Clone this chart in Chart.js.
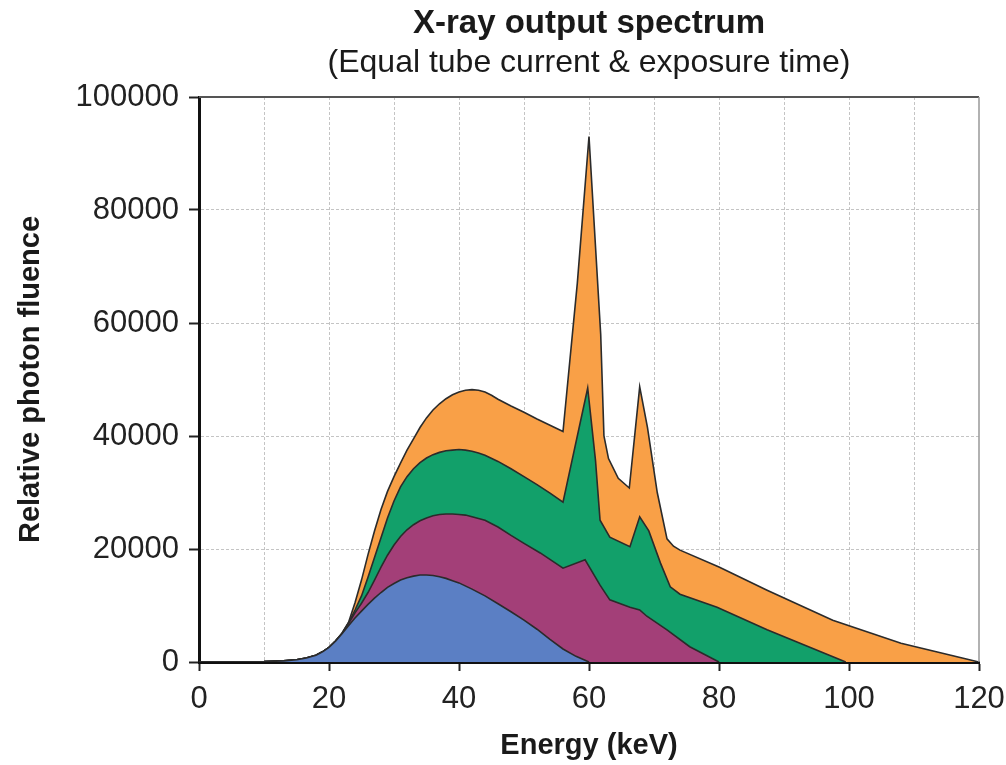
<!DOCTYPE html>
<html>
<head>
<meta charset="utf-8">
<script src="https://cdn.jsdelivr.net/npm/chart.js@4.4.1/dist/chart.umd.min.js"></script>
<style>
  body { margin: 0; background: #fff; }
  #wrap { width: 1006px; height: 765px; }
</style>
</head>
<body>
<div id="wrap"><canvas id="canvas"></canvas></div>
<script>
// shared low-energy tail (all four spectra overlap here)
var tailEnergy  = [0, 5, 10, 13, 15, 16.5, 18, 19, 20, 21];
var tailFluence = [0, 0, 60, 200, 400, 700, 1200, 1800, 2600, 3700];

// 60 kVp
var kv60Energy  = [22, 23, 24, 25, 26, 27, 28, 29, 30, 31, 32, 33, 34, 35, 36, 37, 38, 39, 40, 42, 44, 46, 48, 50, 52, 54, 56, 58, 60];
var kv60Fluence = [5000, 6400, 7800, 9000, 10200, 11300, 12300, 13200, 13900, 14500, 14900, 15200, 15400, 15400, 15300, 15100, 14800, 14400, 14000, 12900, 11700, 10300, 8900, 7400, 5800, 4000, 2300, 1000, 0];

// 80 kVp
var kv80Energy  = [22, 23, 24, 25, 26, 27, 28, 29, 30, 31, 32, 33, 34, 35, 36, 37, 38, 39, 40, 41, 42, 43, 44, 46, 48, 50, 52.5, 56, 59.4, 61.7, 63.2, 66.3, 67.8, 68.9, 72, 75.5, 80];
var kv80Fluence = [5000, 6800, 8700, 10400, 12300, 14500, 16800, 18900, 20700, 22200, 23400, 24300, 25000, 25500, 25900, 26100, 26200, 26200, 26100, 26000, 25700, 25400, 25100, 23900, 22400, 21000, 19300, 16600, 18100, 13600, 11000, 9700, 9200, 8100, 5700, 2700, 0];

// 100 kVp
var kv100Energy  = [22, 23, 24, 25, 26, 27, 28, 29, 30, 31, 32, 33, 34, 35, 36, 37, 38, 39, 40, 41, 42, 43, 44, 46, 48, 50, 52, 54, 56, 59.8, 61, 61.7, 63.2, 66.3, 67.8, 69.2, 71, 72.5, 74, 79.7, 87.4, 99.5];
var kv100Fluence = [5100, 6900, 9200, 11700, 15000, 18500, 22000, 25500, 28500, 31000, 32800, 34200, 35300, 36100, 36700, 37100, 37400, 37500, 37600, 37500, 37300, 37000, 36600, 35500, 34200, 32800, 31400, 29900, 28300, 48500, 35700, 25100, 22100, 20400, 25700, 23200, 17500, 13300, 12000, 9700, 5700, 0];

// 120 kVp
var kv120Energy  = [22, 23, 24, 25, 26, 27, 28, 29, 30, 31, 32, 33, 34, 35, 36, 37, 38, 39, 40, 41, 42, 43, 44, 45, 46, 48, 50, 52, 54, 56, 58.2, 60, 61.8, 62.3, 63, 64.5, 66.2, 67.8, 69, 70.5, 72, 73, 74, 80, 87.4, 97.5, 108, 120];
var kv120Fluence = [5100, 7000, 10500, 14500, 19000, 23200, 27000, 30200, 32800, 35200, 37500, 39500, 41500, 43200, 44600, 45700, 46600, 47300, 47800, 48100, 48200, 48100, 47800, 47200, 46500, 45300, 44200, 43000, 41900, 40800, 67000, 93000, 58000, 40000, 36000, 32500, 30800, 48700, 41500, 30000, 21800, 20500, 19800, 16800, 12700, 7400, 3300, 0];

var yTickLabels = ['0', '20000', '40000', '60000', '80000', '100000'];

var fillColors = ['#5b7fc4', '#a33f78', '#12a06a', '#f9a047'];
var fontFamily = '"Liberation Sans", Arial, sans-serif';

function toPoints(e, f) {
    var xs = tailEnergy.concat(e), ys = tailFluence.concat(f);
    return xs.map(function (x, i) { return { x: x, y: ys[i] }; });
}

function spectrum(e, f, i) {
    return {
        data: toPoints(e, f),
        backgroundColor: fillColors[i],
        borderColor: '#2b2b2b',
        borderWidth: 1.6,
        fill: 'origin',
        pointRadius: 0,
        tension: 0
    };
}

var titlePlugin = {
    id: 'titles',
    afterDraw: function (chart) {
        var ctx = chart.ctx, a = chart.chartArea;
        var cx = (a.left + a.right) / 2;
        ctx.save();
        // frame on top and right
        ctx.strokeStyle = '#555';
        ctx.lineWidth = 2;
        ctx.beginPath();
        ctx.moveTo(a.left, a.top);
        ctx.lineTo(a.right, a.top);
        ctx.stroke();
        ctx.strokeStyle = '#999';
        ctx.lineWidth = 1.5;
        ctx.beginPath();
        ctx.moveTo(a.right, a.top);
        ctx.lineTo(a.right, a.bottom);
        ctx.stroke();
        ctx.fillStyle = '#1a1a1a';
        ctx.textAlign = 'center';
        ctx.textBaseline = 'middle';
        ctx.font = 'bold 33px ' + fontFamily;
        ctx.fillText('X-ray output spectrum', cx, 24);
        ctx.font = '32px ' + fontFamily;
        ctx.fillText('(Equal tube current & exposure time)', cx, 63);
        ctx.restore();
    }
};

window.onload = function () {
    new Chart(document.getElementById('canvas'), {
        type: 'line',
        data: {
            datasets: [
                spectrum(kv60Energy, kv60Fluence, 0),
                spectrum(kv80Energy, kv80Fluence, 1),
                spectrum(kv100Energy, kv100Fluence, 2),
                spectrum(kv120Energy, kv120Fluence, 3)
            ]
        },
        options: {
            responsive: true,
            maintainAspectRatio: false,
            animation: false,
            layout: { padding: { top: 97, right: 27, left: 0, bottom: 0 } },
            plugins: {
                legend: { display: false },
                tooltip: { enabled: false }
            },
            scales: {
                x: {
                    type: 'linear',
                    min: 0,
                    max: 120,
                    afterFit: function (s) {
                        s.height = 103;
                        s.paddingLeft = 0;
                        s.paddingRight = 0;
                    },
                    ticks: {
                        stepSize: 10,
                        autoSkip: false,
                        maxRotation: 0,
                        padding: 10,
                        color: '#222',
                        font: { family: fontFamily, size: 31 },
                        callback: function (v) { return v % 20 === 0 ? String(v) : ''; }
                    },
                    grid: {
                        color: function (c) { return c.tick && c.tick.value === 120 ? 'rgba(0,0,0,0)' : '#c4c4c4'; },
                        lineWidth: 1,
                        tickLength: 9,
                        tickWidth: 2,
                        tickBorderDash: [],
                        tickColor: function (c) { return c.tick && c.tick.value % 20 === 0 ? '#222' : 'rgba(0,0,0,0)'; }
                    },
                    border: { color: '#111', width: 3, dash: [3, 2] },
                    title: {
                        display: true,
                        text: 'Energy (keV)',
                        color: '#1a1a1a',
                        padding: { top: 0, bottom: 2 },
                        font: { family: fontFamily, size: 29, weight: 'bold' }
                    }
                },
                y: {
                    min: 0,
                    max: 100000,
                    afterFit: function (s) { s.width = 199; },
                    ticks: {
                        stepSize: 20000,
                        padding: 10,
                        color: '#222',
                        font: { family: fontFamily, size: 31 },
                        callback: function (v, i) { return yTickLabels[i]; }
                    },
                    grid: {
                        color: function (c) { return c.tick && c.tick.value === 100000 ? 'rgba(0,0,0,0)' : '#c4c4c4'; },
                        lineWidth: 1,
                        tickLength: 10,
                        tickWidth: 2,
                        tickBorderDash: [],
                        tickColor: '#222'
                    },
                    border: { color: '#111', width: 3, dash: [3, 2] },
                    title: {
                        display: true,
                        text: 'Relative photon fluence',
                        color: '#1a1a1a',
                        padding: { top: 14, bottom: 0 },
                        font: { family: fontFamily, size: 29, weight: 'bold' }
                    }
                }
            }
        },
        plugins: [titlePlugin]
    });
};
</script>
</body>
</html>
